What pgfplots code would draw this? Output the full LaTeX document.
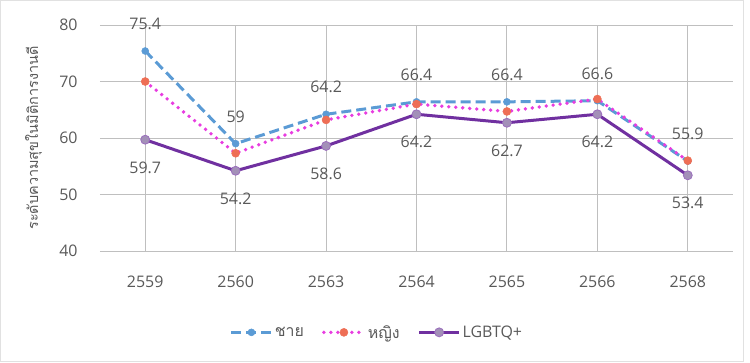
\documentclass[border=0pt]{standalone}
\usepackage{fontspec}
\setmainfont{Open Sans}
\newfontfamily\thaifont[Script=Thai]{Loma}
\usepackage{pgfplots}
\pgfplotsset{compat=1.18}
\definecolor{txt}{HTML}{595959}
\definecolor{grid}{HTML}{D9D9D9}
\definecolor{cblue}{HTML}{5B9BD5}
\definecolor{cpink}{HTML}{E83DE0}
\definecolor{corange}{HTML}{EE6E55}
\definecolor{cpurple}{HTML}{7030A0}
\definecolor{cpurplem}{HTML}{A390B8}
\begin{document}
\begin{tikzpicture}
\begin{axis}[
  name=ax,
  scale only axis, width=633bp, height=226bp,
  xmin=-0.5, xmax=6.5, ymin=40, ymax=80,
  xtick={0,...,6},
  xticklabels={2559,2560,2563,2564,2565,2566,2568},
  ytick={40,50,...,80},
  ymajorgrids, grid style={grid, line width=1bp},
  axis line style={draw=none},
  major tick style={draw=none},
  /pgf/number format/assume math mode=true,
  /pgf/number format/.cd, fixed, precision=1, /pgfplots/.cd,
  tick label style={font=\fontsize{16}{19}\selectfont, text=txt},
  yticklabel style={xshift=-19bp},
  xticklabel style={yshift=-21bp},
  ylabel={\thaifont\fontsize{14.5}{17}\selectfont ระดับความสุขในมิติการงานดี},
  ylabel style={text=txt, at={(axis description cs:-0.105,0.5)}, anchor=center},
  legend columns=3,
  legend style={draw=none, fill=none, at={(0.4376,-0.36)}, anchor=center,
    font=\fontsize{16}{19}\selectfont, text=txt,
    /tikz/every even column/.append style={column sep=16bp}},
  legend image code/.code={\draw[mark repeat=2,mark phase=2,#1] plot coordinates {(0bp,0bp) (20bp,0bp) (40bp,0bp)};},
  nodes near coords style={font=\fontsize{16}{19}\selectfont, text=txt},
  clip=false,
]
\addplot[cblue, line width=3bp, dash pattern=on 10bp off 5bp, mark=*, mark size=3.5bp,
  mark options={solid, fill=cblue, draw=cblue, line width=0.5bp},
  nodes near coords, every node near coord/.append style={anchor=center, yshift=27bp}]
  coordinates {(0,75.4) (1,59) (2,64.2) (3,66.4) (4,66.4) (5,66.6) (6,55.9)};
\addlegendentry{\thaifont ชาย}
\addplot[cpink, line width=3.8bp, line cap=round, dash pattern=on 0bp off 7bp, mark=*, mark size=4bp,
  mark options={solid, fill=corange, draw=corange, line width=0.5bp}]
  coordinates {(0,70.0) (1,57.3) (2,63.2) (3,66.0) (4,64.7) (5,66.9) (6,56.0)};
\addlegendentry{\thaifont หญิง}
\addplot[cpurple, line width=3bp, mark=*, mark size=4.5bp,
  mark options={solid, fill=cpurplem, draw=cpurple!70, line width=0.8bp},
  nodes near coords, every node near coord/.append style={anchor=center, yshift=-28bp}]
  coordinates {(0,59.7) (1,54.2) (2,58.6) (3,64.2) (4,62.7) (5,64.2) (6,53.4)};
\addlegendentry{LGBTQ+}
\end{axis}
\draw[grid!80, line width=1bp] ([shift={(-99.5bp,-110.5bp)}]ax.south west) rectangle ([shift={(643bp,250.5bp)}]ax.south west);
\useasboundingbox ([shift={(-100bp,-112bp)}]ax.south west) rectangle ([shift={(650bp,251bp)}]ax.south west);
\end{tikzpicture}
\end{document}
